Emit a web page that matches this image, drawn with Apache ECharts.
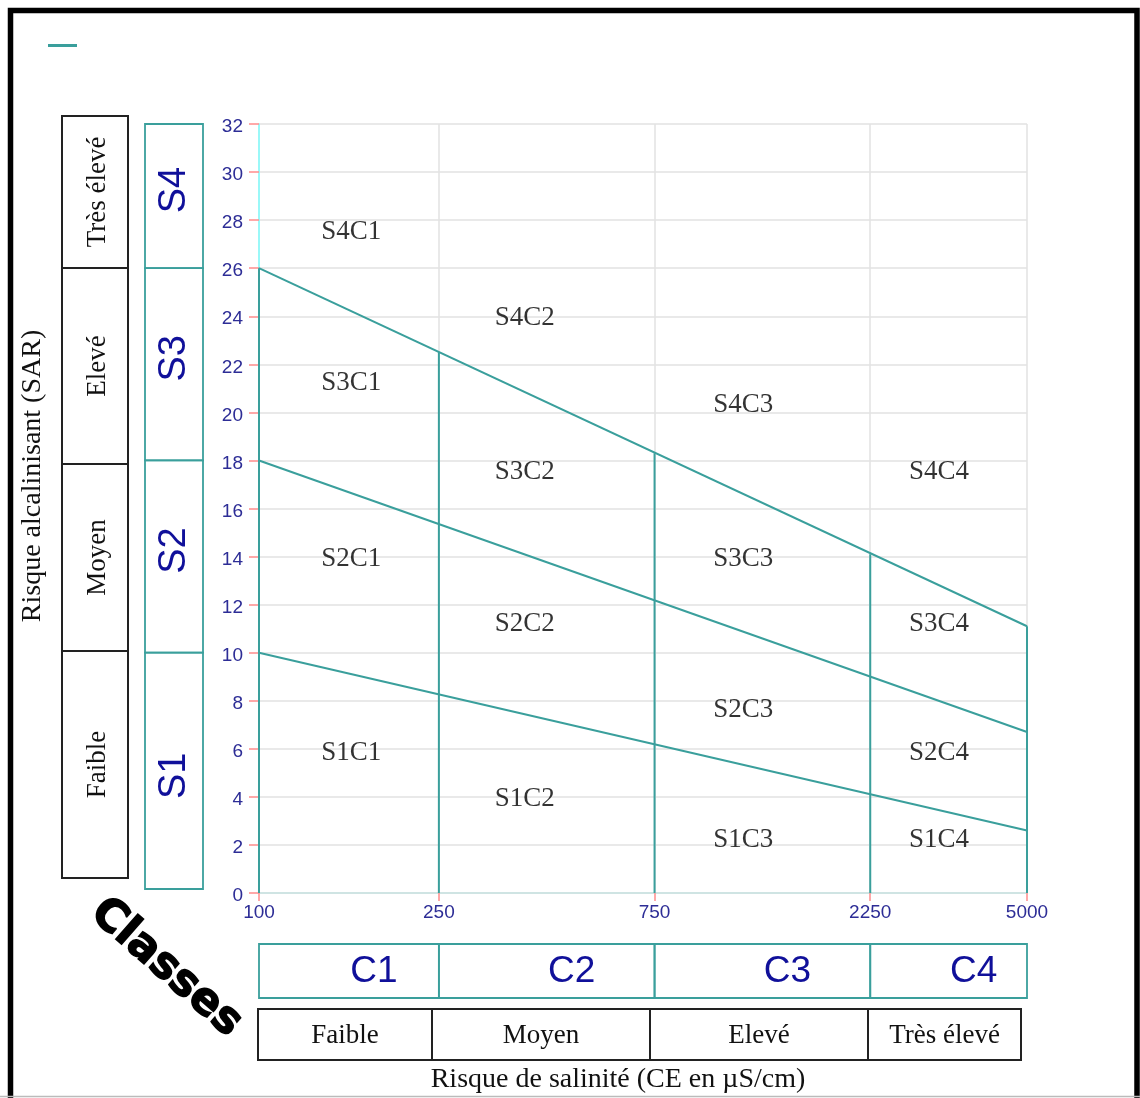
<!DOCTYPE html>
<html><head><meta charset="utf-8">
<script src="https://cdn.jsdelivr.net/npm/echarts@6/dist/echarts.min.js"></script>
<style>html,body{margin:0;padding:0;background:#fff}#c{width:1140px;height:1098px}</style>
</head><body><div id="c"></div>
<script>
// ---- data ----
const ceTicks = [100, 250, 750, 2250, 5000];
const sarMin = 0, sarMax = 32, sarStep = 2;
const classBoundsC = [100, 250, 750, 2250, 5000];
const classBoundsS = [0, 10, 18, 26, 32];
const limitS1S2 = [[100, 10], [5000, 2.6]];
const limitS2S3 = [[100, 18], [5000, 6.7]];
const limitS3S4 = [[100, 26], [5000, 11.1]];
const verticalCE = [100, 250, 750, 2250, 5000];
const verticalTop = [26, 22.5, 18.3, 14.1, 11.1];
const zoneNames = ['S4C1','S4C2','S4C3','S4C4','S3C1','S3C2','S3C3','S3C4','S2C1','S2C2','S2C3','S2C4','S1C1','S1C2','S1C3','S1C4'];
const zoneCE    = [160, 387, 1178, 3192, 160, 387, 1178, 3192, 160, 387, 1178, 3192, 160, 387, 1178, 3192];
const zoneSAR   = [27.6, 24, 20.4, 17.6, 21.3, 17.6, 14, 11.3, 14, 11.3, 7.7, 5.9, 5.9, 4, 2.3, 2.3];
const sClasses = ['S1','S2','S3','S4'];
const sRisk = ['Faible','Moyen','Elevé','Très élevé'];
const cClasses = ['C1','C2','C3','C4'];
const cRisk = ['Faible','Moyen','Elevé','Très élevé'];
const yTitle = 'Risque alcalinisant (SAR)';
const xTitle = 'Risque de salinité (CE en µS/cm)';
const cornerTitle = 'Classes';

// ---- styles ----
const TEAL = '#3a9f9c';
const BLUE = '#10109a';
const TICKBLUE = '#2d2d96';
const SERIF = '"Liberation Serif", "Times New Roman", serif';
const SANS = '"Liberation Sans", Arial, sans-serif';

const chart = echarts.init(document.getElementById('c'), null, {renderer: 'canvas'});

const series = [];
[limitS1S2, limitS2S3, limitS3S4].forEach(d => {
  series.push({name: 'Limites', type: 'line', data: d, symbol: 'none', lineStyle: {color: TEAL, width: 2}, itemStyle: {color: TEAL}, z: 5, silent: true});
});
verticalCE.forEach((x, i) => {
  series.push({name: 'Limites', type: 'line', data: [[x, 0], [x, verticalTop[i]]], symbol: 'none', lineStyle: {color: TEAL, width: 2}, itemStyle: {color: TEAL}, z: 5, silent: true});
});
series.push({
  name: 'zones', type: 'scatter', symbolSize: 0,
  data: zoneNames.map((n, i) => ({name: n, value: [zoneCE[i], zoneSAR[i]]})),
  label: {show: true, position: 'inside', offset: [0, 2], formatter: p => p.name, color: '#000', textBorderWidth: 0, textBorderColor: 'transparent', fontFamily: SERIF, fontSize: 27},
  z: 6, silent: true
});

const option = {
  animation: false,
  backgroundColor: '#fff',
  legend: {
    left: 48, top: 44, padding: 0, itemWidth: 29, itemHeight: 3, icon: 'rect',
    data: ['Limites'], formatter: () => '', selectedMode: false,
    itemStyle: {color: TEAL}
  },
  grid: {left: 259, right: 113, top: 124, bottom: 205, containLabel: false},
  xAxis: {
    type: 'log', logBase: 10, min: 100, max: 5000,
    axisLine: {show: true, lineStyle: {color: '#cfe4e3', width: 2}},
    axisTick: {show: true, length: 8, lineStyle: {color: '#ff8c8c', width: 1.5}, customValues: ceTicks},
    axisLabel: {color: TICKBLUE, fontFamily: SANS, fontSize: 19, margin: 10, customValues: ceTicks, formatter: v => String(Math.round(v))},
    splitLine: {show: true, lineStyle: {color: '#e2e2e2', width: 1.5}},
    minorSplitLine: {show: false}
  },
  yAxis: {
    type: 'value', min: sarMin, max: sarMax, interval: sarStep,
    axisLine: {show: true, lineStyle: {color: '#7ffcfc', width: 1.5}},
    axisTick: {show: true, length: 10, lineStyle: {color: '#ff8c8c', width: 1.5}},
    axisLabel: {
      color: TICKBLUE, fontFamily: SANS, fontSize: 19, margin: 16,
      formatter: v => '{a|' + v + '}',
      rich: {a: {color: TICKBLUE, fontFamily: SANS, fontSize: 19, padding: [6, 0, 0, 0]}}
    },
    splitLine: {show: true, lineStyle: {color: '#e2e2e2', width: 1.5}}
  },
  series: series
};
chart.setOption(option);

// ---- decorations built from axis scales ----
const g = [];
// outer frame
g.push({type: 'rect', shape: {x: 10.5, y: 10.5, width: 1126.5, height: 1100}, style: {fill: 'none', stroke: '#000', lineWidth: 5.5}, z: 100});
g.push({type: 'line', shape: {x1: 0, y1: 1096.5, x2: 1140, y2: 1096.5}, style: {stroke: '#bbb', lineWidth: 1.5}, z: 100});

// S class teal boxes
for (let i = 0; i < 4; i++) {
  const y0 = chart.convertToPixel({yAxisIndex: 0}, classBoundsS[i]);
  const y1 = chart.convertToPixel({yAxisIndex: 0}, classBoundsS[i + 1]);
  g.push({type: 'rect', shape: {x: 145, y: y1, width: 58, height: (i === 0 ? y0 - 4 : y0) - y1}, style: {fill: 'none', stroke: TEAL, lineWidth: 1.8}});
  const cy = (y0 + y1) / 2 + (i === 0 ? 3 : -6);
  g.push({type: 'text', x: 175, y: cy, rotation: Math.PI / 2, style: {text: sClasses[i], font: '38px ' + SANS, fill: BLUE, align: 'center', verticalAlign: 'middle'}});
}
// S risk black boxes
const sBoxY = [878, 651, 464, 268, 116];
for (let i = 0; i < 4; i++) {
  g.push({type: 'rect', shape: {x: 62, y: sBoxY[i + 1], width: 66, height: sBoxY[i] - sBoxY[i + 1]}, style: {fill: 'none', stroke: '#222', lineWidth: 2}});
  g.push({type: 'text', x: 98, y: (sBoxY[i] + sBoxY[i + 1]) / 2, rotation: Math.PI / 2, style: {text: sRisk[i], font: '27px ' + SERIF, fill: '#111', align: 'center', verticalAlign: 'middle'}});
}
// C class teal boxes
for (let i = 0; i < 4; i++) {
  const x0 = chart.convertToPixel({xAxisIndex: 0}, classBoundsC[i]);
  const x1 = chart.convertToPixel({xAxisIndex: 0}, classBoundsC[i + 1]);
  g.push({type: 'rect', shape: {x: x0, y: 944, width: x1 - x0, height: 54}, style: {fill: 'none', stroke: TEAL, lineWidth: 1.8}});
  g.push({type: 'text', x: (x0 + x1) / 2 + 25, y: 972, style: {text: cClasses[i], font: '37px ' + SANS, fill: BLUE, align: 'center', verticalAlign: 'middle'}});
}
// C risk black boxes
const cBoxX = [258, 432, 650, 868, 1021];
for (let i = 0; i < 4; i++) {
  g.push({type: 'rect', shape: {x: cBoxX[i], y: 1009, width: cBoxX[i + 1] - cBoxX[i], height: 51}, style: {fill: 'none', stroke: '#222', lineWidth: 2}});
  g.push({type: 'text', x: (cBoxX[i] + cBoxX[i + 1]) / 2, y: 1036, style: {text: cRisk[i], font: '27px ' + SERIF, fill: '#111', align: 'center', verticalAlign: 'middle'}});
}
// axis titles
g.push({type: 'text', x: 33, y: 476, rotation: Math.PI / 2, style: {text: yTitle, font: '28px ' + SERIF, fill: '#111', align: 'center', verticalAlign: 'middle'}});
g.push({type: 'text', x: 618, y: 1080, style: {text: xTitle, font: '28px ' + SERIF, fill: '#111', align: 'center', verticalAlign: 'middle'}});
g.push({type: 'text', x: 166, y: 968, rotation: -0.72, style: {text: cornerTitle, font: 'bold 44px "DejaVu Sans", sans-serif', fill: '#000', stroke: '#000', lineWidth: 1.5, align: 'center', verticalAlign: 'middle'}});

chart.setOption({graphic: g});
</script>
</body></html>
